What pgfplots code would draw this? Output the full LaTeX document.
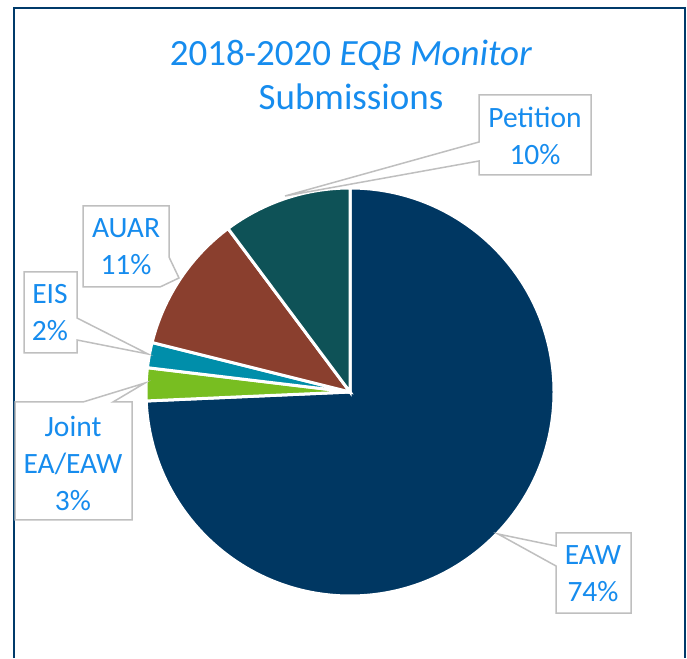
\documentclass[border=0pt]{standalone}
\usepackage{pgfplots}
\usepackage{pgfplotstable}
\pgfplotsset{compat=1.18}
\usepackage{fontspec}
\setmainfont{Carlito}
\definecolor{cEAW}{HTML}{003762}
\definecolor{cJoint}{HTML}{78BE21}
\definecolor{cEIS}{HTML}{008EAA}
\definecolor{cAUAR}{HTML}{8A3F2E}
\definecolor{cPet}{HTML}{0E5257}
\definecolor{txt}{HTML}{168CEE}
\definecolor{frame}{HTML}{003A6A}
\definecolor{callout}{HTML}{BFBFBF}

\pgfplotstableread{
label value color
EAW 74.3 cEAW
Joint 2.6 cJoint
EIS 2.0 cEIS
AUAR 10.9 cAUAR
Petition 10.2 cPet
}\piedata

\begin{document}
\begin{tikzpicture}
\begin{axis}[
  at={(0,0)}, anchor=origin,
  scale only axis, width=687pt, height=658pt,
  xmin=0, xmax=687, ymin=0, ymax=658,
  hide axis, clip=false,
]
% frame
\draw[frame, line width=2.6pt] (axis cs:14,0) -- (axis cs:14,650) -- (axis cs:685,650) -- (axis cs:685,0);
% pie
\pgfmathsetmacro\cur{90}
\pgfplotsforeachungrouped \i in {0,...,4}{%
  \pgfplotstablegetelem{\i}{value}\of\piedata \let\v\pgfplotsretval
  \pgfplotstablegetelem{\i}{color}\of\piedata \let\c\pgfplotsretval
  \pgfmathsetmacro\nxt{\cur-3.6*\v}%
  \edef\temp{\noexpand\fill[\c,draw=white,line width=3pt,line join=miter] (axis cs:350,266) -- ++(\cur:204pt) arc[start angle=\cur,end angle=\nxt,radius=204pt] -- cycle;}%
  \temp
  \global\let\cur\nxt
}
% title
\node[txt, align=center, font=\fontsize{37}{44}\selectfont] at (axis cs:351,583) {2018-2020 \textit{EQB Monitor}\\Submissions};
% callouts
\tikzset{co/.style={draw=callout, fill=white, line width=1.5pt, line join=miter}}
\tikzset{lab/.style={txt, align=center, font=\fontsize{29.5}{37}\selectfont}}
% Petition
\draw[co] (axis cs:479,563) -- (axis cs:591,563) -- (axis cs:591,483) -- (axis cs:479,483) -- (axis cs:479,497) -- (axis cs:285,462) -- (axis cs:479,516) -- cycle;
\node[lab] at (axis cs:535,522) {Petition\\10\%};
% AUAR
\draw[co] (axis cs:83,452) -- (axis cs:169,452) -- (axis cs:169,401) -- (axis cs:179,380) -- (axis cs:160,371) -- (axis cs:83,371) -- cycle;
\node[lab] at (axis cs:126,411) {AUAR\\11\%};
% EIS
\draw[co] (axis cs:24,386) -- (axis cs:77,386) -- (axis cs:77,340) -- (axis cs:148,304) -- (axis cs:77,318) -- (axis cs:77,305) -- (axis cs:24,305) -- cycle;
\node[lab] at (axis cs:50,345) {EIS\\2\%};
% Joint
\draw[co] (axis cs:15,256) -- (axis cs:83,256) -- (axis cs:145,275) -- (axis cs:113,256) -- (axis cs:132,256) -- (axis cs:132,138) -- (axis cs:15,138) -- cycle;
\node[lab] at (axis cs:73,195) {Joint\\EA/EAW\\3\%};
% EAW
\draw[co] (axis cs:556,125) -- (axis cs:631,125) -- (axis cs:631,45) -- (axis cs:556,45) -- (axis cs:556,92) -- (axis cs:498,124) -- (axis cs:556,112) -- cycle;
\node[lab] at (axis cs:593,84) {EAW\\74\%};
\end{axis}
\pgfresetboundingbox
\useasboundingbox (0,0) rectangle (687pt,658pt);
\end{tikzpicture}
\end{document}
